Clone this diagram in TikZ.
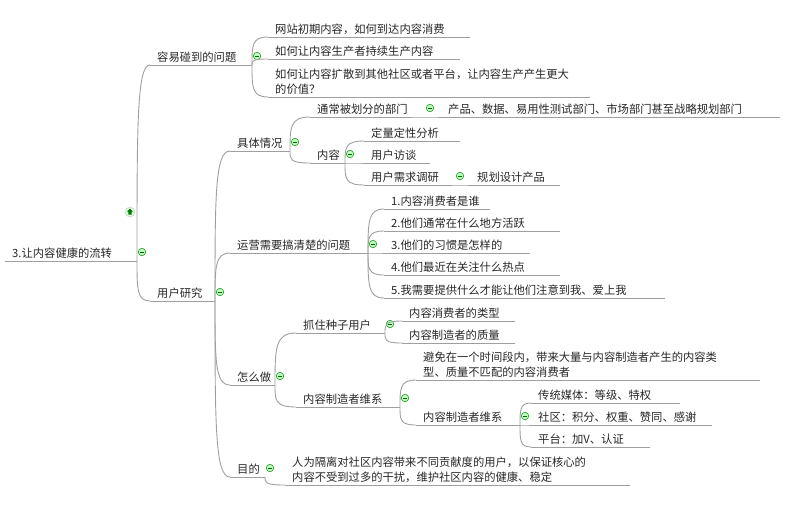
\documentclass[tikz,border=0pt]{standalone}
\usepackage{fontspec}
\setmainfont{Noto Sans CJK SC}
\usetikzlibrary{calc}
\tikzset{
  txt/.style={anchor=south west,inner sep=1pt,font=\fontsize{11.3}{15}\selectfont,align=left,text=black!85},
  uline/.style={draw=gray!75,line width=0.9pt},
  conn/.style={draw=gray!75,line width=0.9pt},
  mk/.style={circle,draw=green!55!black,fill=green!25,line width=0.5pt,minimum size=7.5pt,inner sep=0pt,
    path picture={\draw[green!40!black,line width=0.6pt]([xshift=-2pt]path picture bounding box.center)--([xshift=2pt]path picture bounding box.center);}}
}
% \mn{name}{xstart}{xend}{underline y}{text}
\newcommand{\mn}[5]{%
  \coordinate (#1-s) at (#2,#4);
  \coordinate (#1-e) at (#3,#4);
  \draw[uline] (#1-s) -- (#1-e);
  \node[txt] (#1) at (#2+6,#4-1) {#5};
}
\newcommand{\mk}[1]{\node[mk] (#1-m) at ($(#1-e)+(5,-9)$) {};}
\newcommand{\cn}[2]{\draw[conn] (#1-e) .. controls ($(#1-e|-#2-s)!0.3!(#1-e)$) and (#1-e|-#2-s) .. (#2-s);}
\begin{document}
\begin{tikzpicture}[x=1pt,y=-1pt]
\useasboundingbox (0,0) rectangle (800,517);
\mn{r}{5}{137}{261}{3.让内容健康的流转}\mk{r}
\node[circle,draw=gray!50,fill=green!15,minimum size=10pt,inner sep=0pt] (up) at (130,212) {};
\fill[green!45!black] (up.center) ++(0,-3.5) -- ++(3,3.2) -- ++(-1.4,0) -- ++(0,3) -- ++(-3.2,0) -- ++(0,-3) -- ++(-1.4,0) -- cycle;
\mn{a}{150}{252}{65}{容易碰到的问题}\mk{a}
\mn{a1}{268}{470}{37}{网站初期内容，如何到达内容消费}
\mn{a2}{268}{460}{59}{如何让内容生产者持续生产内容}
\mn{a3}{268}{590}{97}{如何让内容扩散到其他社区或者平台，让内容生产产生更大\\的价值？}
\mn{b}{150}{215}{301}{用户研究}\mk{b}
\mn{b1}{230}{290}{151}{具体情况}\mk{b1}
\mn{b11}{310}{412}{117}{通常被划分的部门}
\node[mk] (b11-m) at ($(b11-e)+(18,-9)$) {};
\mn{b111}{441}{780}{117}{产品、数据、易用性测试部门、市场部门甚至战略规划部门}
\mn{b12}{310}{345}{163}{内容}\mk{b12}
\mn{b121}{364}{460}{141}{定量定性分析}
\mn{b122}{364}{430}{163}{用户访谈}
\mn{b123}{364}{452}{185}{用户需求调研}
\node[mk] (b123-m) at ($(b123-e)+(8,-9)$) {};
\mn{b1231}{470}{560}{185}{规划设计产品}
\mn{b2}{230}{368}{253}{运营需要搞清楚的问题}\mk{b2}
\mn{b21}{384}{490}{209}{1.内容消费者是谁}
\mn{b22}{384}{560}{231}{2.他们通常在什么地方活跃}
\mn{b23}{384}{530}{253}{3.他们的习惯是怎样的}
\mn{b24}{384}{560}{275}{4.他们最近在关注什么热点}
\mn{b25}{384}{665}{298}{5.我需要提供什么才能让他们注意到我、爱上我}
\mn{b3}{230}{275}{385}{怎么做}\mk{b3}
\mn{b31}{296}{385}{333}{抓住种子用户}\mk{b31}
\mn{b311}{402}{515}{321}{内容消费者的类型}
\mn{b312}{402}{515}{343}{内容制造者的质量}
\mn{b32}{296}{400}{407}{内容制造者维系}\mk{b32}
\mn{b321}{416}{760}{380}{避免在一个时间段内，带来大量与内容制造者产生的内容类\\型、质量不匹配的内容消费者}
\mn{b322}{416}{520}{425}{内容制造者维系}\mk{b322}
\mn{b3221}{531}{680}{403}{传统媒体：等级、特权}
\mn{b3222}{531}{712}{425}{社区：积分、权重、赞同、感谢}
\mn{b3223}{531}{650}{447}{平台：加V、认证}
\mn{b4}{230}{265}{477}{目的}\mk{b4}
\mn{b41}{285}{630}{485}{人为隔离对社区内容带来不同贡献度的用户，以保证核心的\\内容不受到过多的干扰，维护社区内容的健康、稳定}
\cn{r}{a}\cn{r}{b}
\cn{a}{a1}\cn{a}{a2}\cn{a}{a3}
\cn{b}{b1}\cn{b}{b2}\cn{b}{b3}\cn{b}{b4}
\cn{b1}{b11}\cn{b1}{b12}
\cn{b11}{b111}
\cn{b12}{b121}\cn{b12}{b122}\cn{b12}{b123}
\cn{b123}{b1231}
\cn{b2}{b21}\cn{b2}{b22}\cn{b2}{b23}\cn{b2}{b24}\cn{b2}{b25}
\cn{b3}{b31}\cn{b3}{b32}
\cn{b31}{b311}\cn{b31}{b312}
\cn{b32}{b321}\cn{b32}{b322}
\cn{b322}{b3221}\cn{b322}{b3222}\cn{b322}{b3223}
\cn{b4}{b41}
\end{tikzpicture}
\end{document}
